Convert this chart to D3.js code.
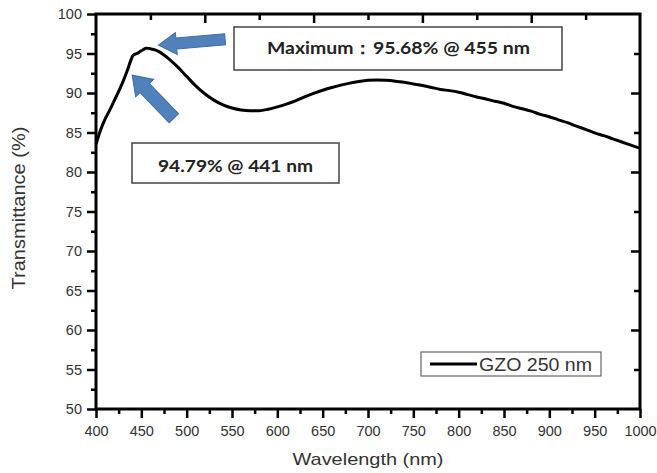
<!DOCTYPE html>
<html>
<head>
<meta charset="utf-8">
<script src="https://cdn.jsdelivr.net/npm/d3@7"></script>
<style>
  html, body { margin: 0; padding: 0; background: #fff; }
  svg { display: block; }
</style>
</head>
<body>
<svg id="chart" width="657" height="473"></svg>
<script>
// ---- data ----
const wavelengths = [400,405,410,415,420,425,430,435,438,441,445,448,450,453,455,458,460,465,470,475,480,490,500,510,520,530,540,550,560,570,580,590,600,610,620,630,640,650,660,670,680,690,700,710,720,730,740,750,760,770,780,790,800,810,820,830,840,850,860,870,880,890,900,910,920,930,940,950,960,970,980,990,1000];
const transmittance = [83.5,85.3,86.7,87.8,89.0,90.2,91.5,93.0,94.0,94.79,95.0,95.2,95.35,95.55,95.68,95.65,95.6,95.45,95.2,94.8,94.35,93.3,92.1,90.9,89.9,89.1,88.5,88.1,87.85,87.75,87.75,87.95,88.25,88.6,89.0,89.5,89.95,90.35,90.7,91.0,91.25,91.45,91.6,91.65,91.6,91.5,91.35,91.15,90.95,90.7,90.45,90.3,90.1,89.8,89.5,89.25,88.95,88.7,88.3,88.0,87.7,87.3,87.0,86.6,86.25,85.8,85.4,84.95,84.6,84.2,83.8,83.4,83.0];
const xTickLabels = [400,450,500,550,600,650,700,750,800,850,900,950,1000];
const xMinorTicks = [425,475,525,575,625,675,725,775,825,875,925,975];
const yTickLabels = [50,55,60,65,70,75,80,85,90,95,100];
const yMinorTicks = [52.5,57.5,62.5,67.5,72.5,77.5,82.5,87.5,92.5,97.5];
const topMajorTicks = [520,640,760,880];
const topMinorTicks = [460,580,700,820,940];
const rightMajorTicks = [60,70,80,90];
const rightMinorTicks = [55,65,75,85,95];
const seriesName = "GZO 250 nm";
const maxPoint = {wl: 455, t: 95.68, label: "Maximum\uFF1A95.68% @ 455 nm"};
const shoulderPoint = {wl: 441, t: 94.79, label: "94.79% @ 441 nm"};

// ---- layout ----
const svg = d3.select("#chart");
const x = d3.scaleLinear().domain([400, 1000]).range([96, 640]);
const y = d3.scaleLinear().domain([50, 100]).range([409, 14]);
const axisFont = "'Liberation Sans', Arial, sans-serif";
const labelColor = "#333";

// frame
svg.append("rect")
  .attr("x", x(400)).attr("y", y(100))
  .attr("width", x(1000) - x(400)).attr("height", y(50) - y(100))
  .attr("fill", "none").attr("stroke", "#000").attr("stroke-width", 3);

function styleAxis(g) {
  g.select(".domain").remove();
  g.selectAll(".tick line").attr("stroke", "#000").attr("stroke-width", 2.5);
  g.selectAll(".tick text").attr("fill", labelColor)
    .style("font-family", axisFont).style("font-size", "14.5px");
}

// bottom axis
svg.append("g").attr("transform", `translate(0,${y(50)})`)
  .call(d3.axisBottom(x).tickValues(xTickLabels).tickSize(9).tickPadding(8).tickFormat(d3.format("d")))
  .call(styleAxis);
svg.append("g").attr("transform", `translate(0,${y(50)})`)
  .call(d3.axisBottom(x).tickValues(xMinorTicks).tickSize(5).tickFormat(""))
  .call(styleAxis);

// left axis
svg.append("g").attr("transform", `translate(${x(400)},0)`)
  .call(d3.axisLeft(y).tickValues(yTickLabels).tickSize(9).tickPadding(5).tickFormat(d3.format("d")))
  .call(styleAxis);
svg.append("g").attr("transform", `translate(${x(400)},0)`)
  .call(d3.axisLeft(y).tickValues(yMinorTicks).tickSize(5).tickFormat(""))
  .call(styleAxis);

// top axis (inward ticks)
svg.append("g").attr("transform", `translate(0,${y(100)})`)
  .call(d3.axisTop(x).tickValues(topMajorTicks).tickSize(-9).tickFormat(""))
  .call(styleAxis);
svg.append("g").attr("transform", `translate(0,${y(100)})`)
  .call(d3.axisTop(x).tickValues(topMinorTicks).tickSize(-6).tickFormat(""))
  .call(styleAxis);

// right axis (inward ticks)
svg.append("g").attr("transform", `translate(${x(1000)},0)`)
  .call(d3.axisRight(y).tickValues(rightMajorTicks).tickSize(-9).tickFormat(""))
  .call(styleAxis);
svg.append("g").attr("transform", `translate(${x(1000)},0)`)
  .call(d3.axisRight(y).tickValues(rightMinorTicks).tickSize(-6).tickFormat(""))
  .call(styleAxis);

// axis titles
svg.append("text")
  .attr("x", (x(400) + x(1000)) / 2).attr("y", 465)
  .attr("text-anchor", "middle").attr("fill", labelColor)
  .attr("textLength", 151).attr("lengthAdjust", "spacingAndGlyphs")
  .style("font-family", axisFont).style("font-size", "17px")
  .text("Wavelength (nm)");
svg.append("text")
  .attr("transform", `translate(25,208) rotate(-90)`)
  .attr("text-anchor", "middle").attr("fill", labelColor)
  .attr("textLength", 163).attr("lengthAdjust", "spacingAndGlyphs")
  .style("font-family", axisFont).style("font-size", "18px")
  .text("Transmittance (%)");

// curve
const data = wavelengths.map((w, i) => ({w, t: transmittance[i]}));
svg.append("path").datum(data)
  .attr("fill", "none").attr("stroke", "#000").attr("stroke-width", 3)
  .attr("stroke-linejoin", "round")
  .attr("d", d3.line().x(d => x(d.w)).y(d => y(d.t)).curve(d3.curveMonotoneX));

// arrows
function arrow(tipX, tipY, angle, len, shaftW, headW, headL) {
  const pts = [[0,0],[-headL,-headW/2],[-headL,-shaftW/2],[-len,-shaftW/2],[-len,shaftW/2],[-headL,shaftW/2],[-headL,headW/2]];
  svg.append("polygon")
    .attr("points", pts.map(p => p.join(",")).join(" "))
    .attr("transform", `translate(${tipX},${tipY}) rotate(${angle})`)
    .attr("fill", "#4f81bd").attr("stroke", "#3d6da6").attr("stroke-width", 1);
}
arrow(x(maxPoint.wl) + 12.5, y(maxPoint.t) - 3, 175, 67, 11, 22, 18);
arrow(x(shoulderPoint.wl) - 1, y(shoulderPoint.t) + 20, -134, 60, 13, 25, 18);

// annotation boxes
const annoFont = "Lato, 'Open Sans', sans-serif";
function annoBox(bx, by, bw, bh, tx, ty, tlen, label) {
  svg.append("rect").attr("x", bx).attr("y", by).attr("width", bw).attr("height", bh)
    .attr("fill", "#fff").attr("stroke", "#444").attr("stroke-width", 1.5);
  svg.append("text").attr("x", tx).attr("y", ty).attr("fill", "#222")
    .attr("textLength", tlen).attr("lengthAdjust", "spacingAndGlyphs")
    .style("font-family", annoFont).style("font-weight", "bold").style("font-size", "17px")
    .text(label);
}
annoBox(234, 27, 328, 43, 267, 53.5, 263, maxPoint.label);
annoBox(132, 143, 207, 40, 158, 172, 155, shoulderPoint.label);

// legend
const lg = svg.append("g");
lg.append("rect").attr("x", 421).attr("y", 352).attr("width", 180).attr("height", 24)
  .attr("fill", "#fff").attr("stroke", "#666").attr("stroke-width", 1.2);
lg.append("line").attr("x1", 430).attr("x2", 477).attr("y1", 364).attr("y2", 364)
  .attr("stroke", "#000").attr("stroke-width", 3);
lg.append("text").attr("x", 479).attr("y", 371).attr("fill", labelColor)
  .attr("textLength", 113).attr("lengthAdjust", "spacingAndGlyphs")
  .style("font-family", axisFont).style("font-size", "18px")
  .text(seriesName);
</script>
</body>
</html>
